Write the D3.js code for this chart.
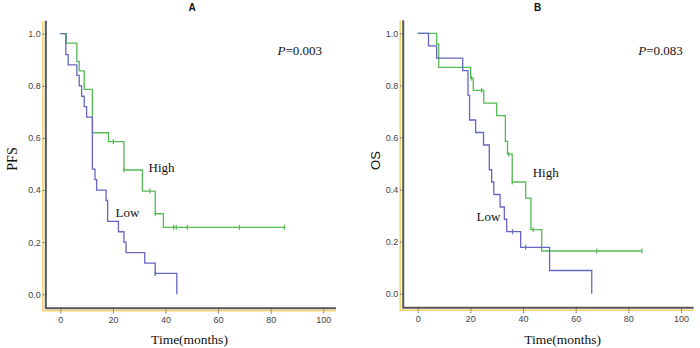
<!DOCTYPE html>
<html>
<head>
<meta charset="utf-8">
<script src="https://cdn.jsdelivr.net/npm/d3@7"></script>
<style>
  body { margin: 0; background: #fff; }
  svg { display: block; }
</style>
</head>
<body>
<div id="chart"></div>
<script>
// datos (tiempo en meses, supervivencia despues de cada caida)
const xTicks = [0, 20, 40, 60, 80, 100];
const yTicks = [0, 0.2, 0.4, 0.6, 0.8, 1.0];

const pfsHighTime = [2.3, 6.3, 7.2, 9.1, 12.2, 18.3, 24.2, 31.2, 36.1, 39.2];
const pfsHighSurv = [0.964, 0.893, 0.857, 0.786, 0.62, 0.586, 0.477, 0.396, 0.309, 0.257];
const pfsHighCens = [20.2, 24.2, 34.1, 36.1, 43.1, 44.1, 48.3, 68.1, 85.2];
const pfsHighEnd = 85.2;

const pfsLowTime = [2.1, 3.0, 6.3, 7.2, 8.1, 9.1, 10.0, 12.2, 13.2, 13.8, 17.4, 18.0, 22.1, 24.2, 25.0, 32.1, 36.1, 44.3];
const pfsLowSurv = [0.92, 0.88, 0.84, 0.80, 0.76, 0.72, 0.68, 0.48, 0.44, 0.40, 0.36, 0.28, 0.24, 0.20, 0.16, 0.12, 0.08, 0];
const pfsLowCens = [36.1];
const pfsLowEnd = 44.3;

const osHighTime = [7.2, 8.0, 20.1, 21.1, 25.1, 30.0, 33.3, 34.1, 35.9, 41.0, 43.0, 47.1];
const osHighSurv = [0.958, 0.869, 0.827, 0.781, 0.732, 0.684, 0.585, 0.536, 0.429, 0.367, 0.246, 0.164];
const osHighCens = [20.5, 24.3, 34.6, 35.9, 43.9, 68.0, 85.2];
const osHighEnd = 85.2;

const osLowTime = [4.1, 7.2, 17.1, 19.1, 19.7, 22.0, 25.0, 27.2, 28.1, 28.9, 31.3, 32.9, 33.8, 39.1, 50.1, 66.1];
const osLowSurv = [0.952, 0.905, 0.857, 0.762, 0.667, 0.619, 0.571, 0.476, 0.429, 0.381, 0.333, 0.286, 0.238, 0.178, 0.089, 0];
const osLowCens = [36.0, 41.0];
const osLowEnd = 66.1;

const green = "#55bb55";
const blue = "#6666c2";
const yellow = "#f2d36c";

const width = 700;
const height = 348;

const svg = d3.select("#chart")
  .append("svg")
  .attr("width", width)
  .attr("height", height);

function survAt(times, surv, t) {
  let s = 1;
  times.forEach((tt, i) => { if (tt <= t + 1e-9) s = surv[i]; });
  return s;
}

function drawPanel(p) {
  const x = d3.scaleLinear().domain([0, 100]).range(p.xRange);
  const y = d3.scaleLinear().domain([0, 1]).range(p.yRange);
  const g = svg.append("g");

  // marco amarillo y ejes grises
  g.append("path")
    .attr("d", `M${x(-5.5) - 3},${y(1.05)} V${y(-0.054) + 2.5} H${x(104.8)}`)
    .attr("fill", "none")
    .attr("stroke", yellow)
    .attr("stroke-width", 1.5);
  g.append("path")
    .attr("d", `M${x(-5.5)},${y(1.05)} V${y(-0.054)} H${x(104.8)}`)
    .attr("fill", "none")
    .attr("stroke", "#555")
    .attr("stroke-width", 2);

  const yAxis = g.append("g")
    .attr("transform", `translate(${x(-5.5)},0)`)
    .call(d3.axisLeft(y).tickValues(yTicks).tickSize(4).tickPadding(1).tickFormat(d3.format(".1f")));
  const xAxis = g.append("g")
    .attr("transform", `translate(0,${y(-0.054)})`)
    .call(d3.axisBottom(x).tickValues(xTicks).tickSize(5).tickPadding(3));
  [yAxis, xAxis].forEach((a) => {
    a.select(".domain").remove();
    a.selectAll("line").attr("stroke", "#333").attr("stroke-dasharray", "1,1");
    a.selectAll("text")
      .attr("fill", "#444")
      .style("font-family", "Arial, 'Liberation Sans'")
      .style("font-size", "9px");
  });

  // curvas Kaplan-Meier
  p.curves.forEach((c) => {
    let d = `M${x(0)},${y(1)}`;
    c.time.forEach((t, i) => {
      d += ` H${x(t)} V${y(c.surv[i])}`;
    });
    d += ` H${x(c.end)}`;
    g.append("path")
      .attr("d", d)
      .attr("fill", "none")
      .attr("stroke", c.color)
      .attr("stroke-width", 1.3);

    g.selectAll(null)
      .data(c.cens)
      .enter()
      .append("line")
      .attr("x1", (t) => x(t))
      .attr("x2", (t) => x(t))
      .attr("y1", (t) => y(survAt(c.time, c.surv, t)) - 2.5)
      .attr("y2", (t) => y(survAt(c.time, c.surv, t)) + 2.5)
      .attr("stroke", c.color)
      .attr("stroke-width", 1.2);

    g.append("text")
      .attr("x", c.labelPos[0])
      .attr("y", c.labelPos[1])
      .attr("fill", "#111")
      .style("font-family", "'Liberation Serif', 'Times New Roman', serif")
      .style("font-size", "13px")
      .text(c.label);
  });

  // titulo del panel
  g.append("text")
    .attr("x", p.titleX)
    .attr("y", 11)
    .attr("text-anchor", "middle")
    .attr("fill", "#111")
    .style("font-family", "Arial, 'Liberation Sans'")
    .style("font-weight", "bold")
    .style("font-size", "10px")
    .text(p.title);

  // valor P
  const pt = g.append("text")
    .attr("x", p.pX)
    .attr("y", 55)
    .attr("fill", "#111")
    .style("font-family", "'Liberation Serif', 'Times New Roman', serif")
    .style("font-size", "13px");
  pt.append("tspan").style("font-style", "italic").text("P");
  pt.append("tspan").text(p.pValue);

  // etiqueta eje x
  g.append("text")
    .attr("x", p.xLabelX)
    .attr("y", 344)
    .attr("text-anchor", "middle")
    .attr("fill", "#111")
    .style("font-family", "'Liberation Serif', 'Times New Roman', serif")
    .style("font-size", "13.5px")
    .text("Time(months)");

  // etiqueta eje y
  g.append("text")
    .attr("transform", `translate(${p.yLabelX},${p.yLabelY}) rotate(-90)`)
    .attr("text-anchor", "middle")
    .attr("fill", "#111")
    .style("font-family", p.yLabelFont)
    .style("font-size", p.yLabelSize)
    .text(p.yLabel);
}

drawPanel({
  xRange: [60.3, 323.3],
  yRange: [294.3, 33.7],
  title: "A",
  titleX: 192,
  pValue: "=0.003",
  pX: 277.5,
  xLabelX: 189.5,
  yLabel: "PFS",
  yLabelX: 16.5,
  yLabelY: 159,
  yLabelFont: "'Liberation Serif', 'Times New Roman', serif",
  yLabelSize: "14px",
  curves: [
    { time: pfsHighTime, surv: pfsHighSurv, cens: pfsHighCens, end: pfsHighEnd, color: green, label: "High", labelPos: [148.5, 172] },
    { time: pfsLowTime, surv: pfsLowSurv, cens: pfsLowCens, end: pfsLowEnd, color: blue, label: "Low", labelPos: [115.5, 217] }
  ]
});

drawPanel({
  xRange: [417.7, 681],
  yRange: [293.7, 33.3],
  title: "B",
  titleX: 537.5,
  pValue: "=0.083",
  pX: 638.3,
  xLabelX: 562.7,
  yLabel: "OS",
  yLabelX: 380,
  yLabelY: 160.5,
  yLabelFont: "Arial, 'Liberation Sans'",
  yLabelSize: "13px",
  curves: [
    { time: osHighTime, surv: osHighSurv, cens: osHighCens, end: osHighEnd, color: green, label: "High", labelPos: [532.7, 177] },
    { time: osLowTime, surv: osLowSurv, cens: osLowCens, end: osLowEnd, color: blue, label: "Low", labelPos: [476.5, 221] }
  ]
});
</script>
</body>
</html>
